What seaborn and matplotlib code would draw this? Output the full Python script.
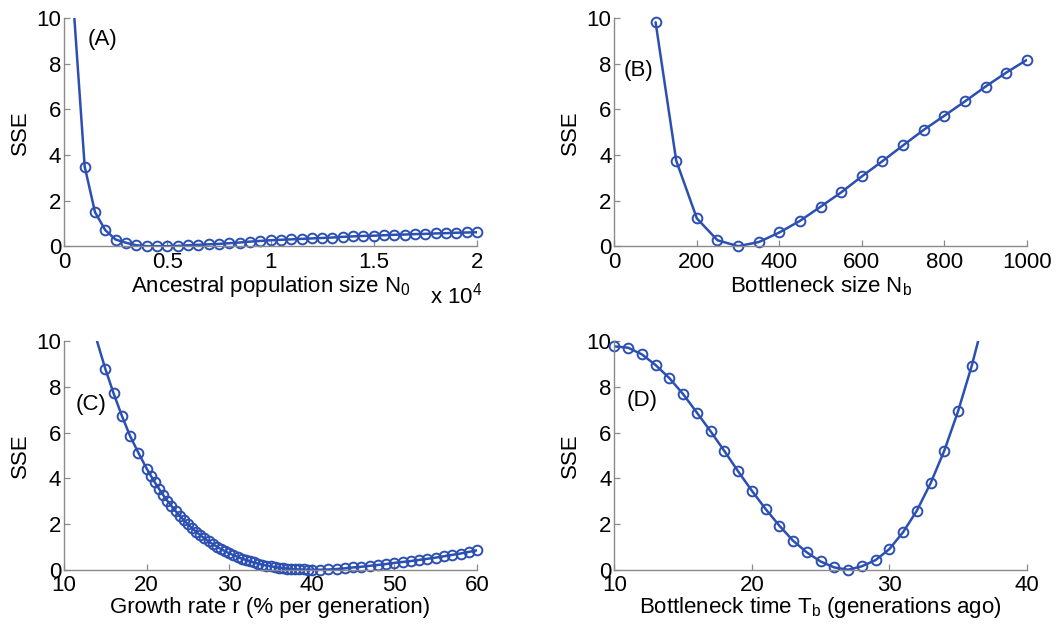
import numpy as np
import matplotlib
matplotlib.use("Agg")
import matplotlib.pyplot as plt
import seaborn as sns

sns.set_theme(style="ticks")
plt.rcParams["font.family"] = ["Liberation Sans", "DejaVu Sans"]
plt.rcParams["mathtext.default"] = "regular"

LINE = "#2c4fb2"
AXIS = "#8a8a8a"
FS = 16

# ---- (A) ancestral population size N0 ----
n0 = np.arange(1000, 20001, 500)
sse_n0 = [3.49, 1.49, 0.70, 0.29, 0.15, 0.04, 0.00, 0.00, 0.00, 0.01,
          0.04, 0.06, 0.08, 0.10, 0.13, 0.16, 0.20, 0.23, 0.26, 0.28,
          0.30, 0.32, 0.34, 0.36, 0.38, 0.41, 0.43, 0.45, 0.46, 0.48,
          0.50, 0.51, 0.53, 0.54, 0.56, 0.57, 0.59, 0.60, 0.61]
n0_curve_start = (500, 10.0)

# ---- (B) bottleneck size Nb ----
nb = np.arange(100, 1001, 50)
sse_nb = [9.82, 3.75, 1.22, 0.26, 0.00, 0.18, 0.60, 1.11, 1.73, 2.36,
          3.06, 3.73, 4.42, 5.10, 5.72, 6.35, 7.00, 7.61, 8.17]

# ---- (C) growth rate r ----
r = np.concatenate([np.arange(15, 20, 1.0), np.arange(20, 40.5, 0.5),
                    np.arange(41, 61, 1.0)])
sse_r = [8.79, 7.72, 6.74, 5.85, 5.12,
         4.43, 4.12, 3.82, 3.54, 3.27, 3.02, 2.79, 2.57, 2.37, 2.17,
         1.99, 1.82, 1.66, 1.51, 1.37, 1.24, 1.12, 1.01, 0.90, 0.81,
         0.72, 0.64, 0.56, 0.49, 0.43, 0.37, 0.32, 0.27, 0.22, 0.18,
         0.15, 0.12, 0.09, 0.07, 0.05, 0.03, 0.02, 0.01, 0.01, 0.00,
         0.00,
         0.00, 0.01, 0.03, 0.06, 0.10, 0.13, 0.17, 0.21, 0.25, 0.30,
         0.34, 0.38, 0.43, 0.48, 0.53, 0.59, 0.65, 0.71, 0.78, 0.85]
r_curve_start = (14.0, 10.0)

# ---- (D) bottleneck time Tb ----
tb = np.arange(10, 37, 1)
sse_tb = [9.78, 9.72, 9.43, 8.96, 8.39, 7.69, 6.88, 6.06, 5.20, 4.31,
          3.46, 2.66, 1.93, 1.27, 0.76, 0.36, 0.10, 0.00, 0.15, 0.42,
          0.90, 1.64, 2.58, 3.78, 5.21, 6.93, 8.93]
tb_curve_end = (36.46, 10.0)


def draw_panel(ax, x, y, curve_x, curve_y, xlim, xticks, xticklabels,
               xlabel, tag, tag_pos, ylabel_x, xlabel_y):
    sns.lineplot(x=curve_x, y=curve_y, ax=ax, color=LINE, linewidth=1.8,
                 estimator=None, sort=False)
    sns.lineplot(x=x, y=y, ax=ax, color=LINE, linestyle="none", marker="o",
                 markersize=7, markerfacecolor="none", markeredgecolor=LINE,
                 markeredgewidth=1.4, estimator=None, sort=False,
                 clip_on=False)
    ax.set_xlim(*xlim)
    ax.set_ylim(0, 10)
    ax.set_xticks(xticks)
    ax.set_xticklabels(xticklabels)
    ax.set_yticks([0, 2, 4, 6, 8, 10])
    ax.set_yticklabels(["0", "2", "4", "6", "8", "10"])
    for s in ("top", "right"):
        ax.spines[s].set_visible(False)
    for s in ("left", "bottom"):
        ax.spines[s].set_color(AXIS)
        ax.spines[s].set_linewidth(1.0)
    ax.tick_params(direction="in", length=4, width=0.9, color=AXIS,
                   labelsize=FS, labelcolor="black")
    ax.tick_params(axis="x", pad=4)
    ax.tick_params(axis="y", pad=2)
    ax.set_xlabel(xlabel, fontsize=FS, color="black")
    ax.set_ylabel("SSE", fontsize=FS, color="black")
    ax.xaxis.set_label_coords(0.5, xlabel_y)
    ax.yaxis.set_label_coords(ylabel_x, 0.5)
    ax.xaxis.label.set_va("center")
    ax.yaxis.label.set_va("center")
    ax.text(tag_pos[0], tag_pos[1], tag, transform=ax.transAxes,
            fontsize=FS, ha="left", va="center", color="black")
    ax.set_facecolor("white")


fig = plt.figure(figsize=(10.62, 6.28), dpi=100)
fig.patch.set_facecolor("white")

ax_a = fig.add_axes([0.0603, 0.608, 0.3889, 0.363])
ax_b = fig.add_axes([0.5785, 0.608, 0.3883, 0.363])
ax_c = fig.add_axes([0.0603, 0.0928, 0.3889, 0.3637])
ax_d = fig.add_axes([0.5785, 0.0928, 0.3883, 0.3637])

draw_panel(ax_a, n0, sse_n0,
           [n0_curve_start[0]] + list(n0), [n0_curve_start[1]] + list(sse_n0),
           (0, 20000), [0, 5000, 10000, 15000, 20000],
           ["0", "0.5", "1", "1.5", "2"],
           "Ancestral population size N$_0$", "(A)", (0.056, 0.908),
           -0.105, -0.175)
ax_a.text(0.885, -0.215, "x 10$^4$", transform=ax_a.transAxes, fontsize=FS,
          ha="left", va="center", color="black")

draw_panel(ax_b, nb, sse_nb, list(nb), list(sse_nb),
           (0, 1000), [0, 200, 400, 600, 800, 1000],
           ["0", "200", "400", "600", "800", "1000"],
           "Bottleneck size N$_b$", "(B)", (0.023, 0.772),
           -0.107, -0.175)

draw_panel(ax_c, r, sse_r,
           [r_curve_start[0]] + list(r), [r_curve_start[1]] + list(sse_r),
           (10, 60), [10, 20, 30, 40, 50, 60],
           ["10", "20", "30", "40", "50", "60"],
           "Growth rate r (% per generation)", "(C)", (0.029, 0.725),
           -0.105, -0.165)

draw_panel(ax_d, tb, sse_tb,
           list(tb) + [tb_curve_end[0]], list(sse_tb) + [tb_curve_end[1]],
           (10, 40), [10, 20, 30, 40],
           ["10", "20", "30", "40"],
           "Bottleneck time T$_b$ (generations ago)", "(D)", (0.03, 0.743),
           -0.107, -0.165)

fig.savefig("out.png", dpi=100, facecolor="white")
